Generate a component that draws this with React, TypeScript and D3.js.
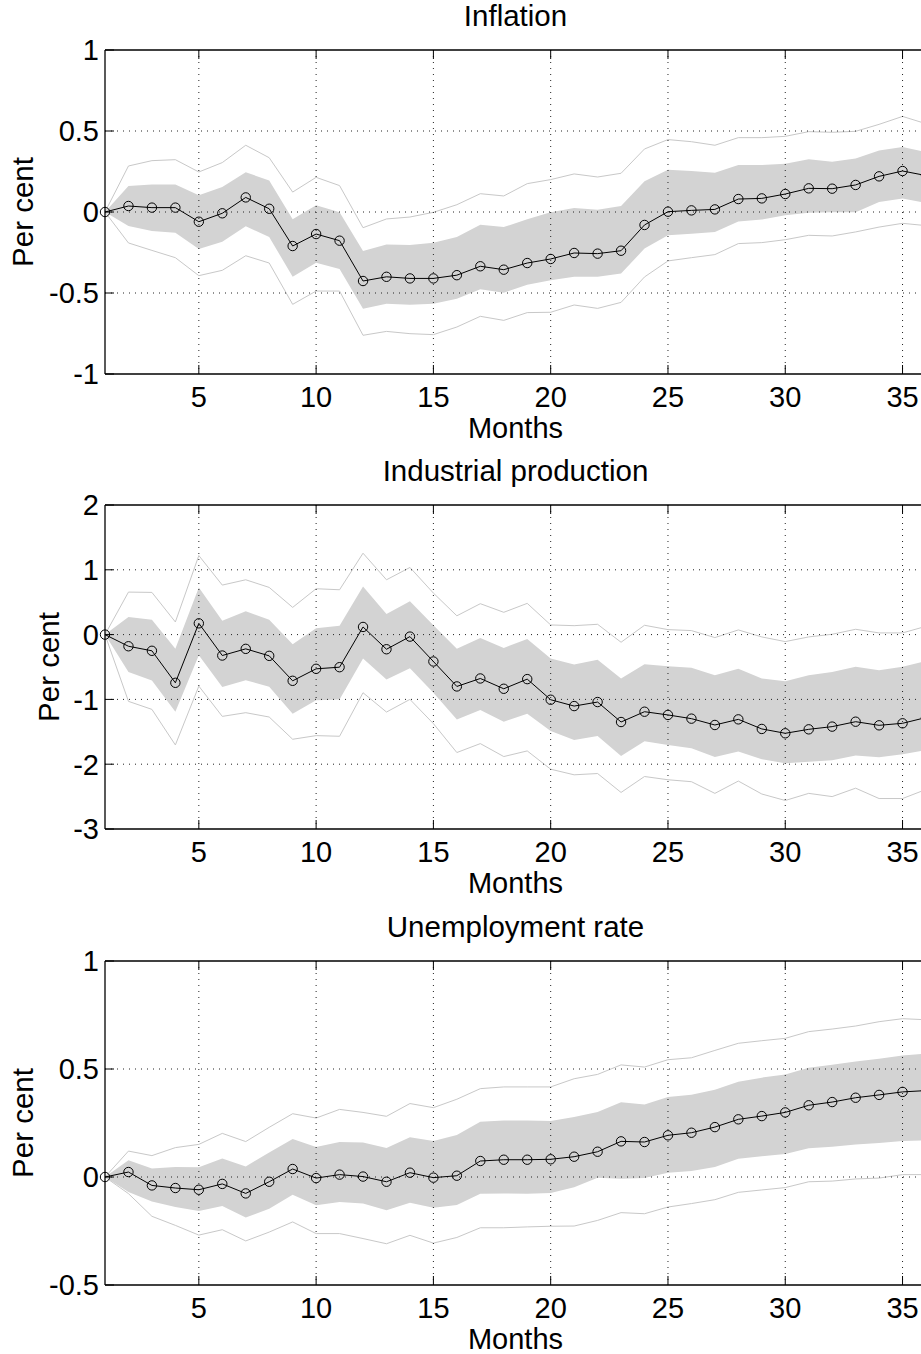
import React from "react";
import * as d3 from "d3";

const months = d3.range(1, 37);
const xTicks = [5, 10, 15, 20, 25, 30, 35];

const titles = ["Inflation", "Industrial production", "Unemployment rate"];
const yDomains: [number, number][] = [[-1, 1], [-3, 2], [-0.5, 1]];
const yTicks = [[-1, -0.5, 0, 0.5, 1], [-3, -2, -1, 0, 1, 2], [-0.5, 0, 0.5, 1]];
const yTickLabels = [["-1", "-0.5", "0", "0.5", "1"], ["-3", "-2", "-1", "0", "1", "2"], ["-0.5", "0", "0.5", "1"]];

// Inflation
const inflMid = [0, 0.037, 0.027, 0.027, -0.06, -0.008, 0.09, 0.02, -0.21, -0.136, -0.177, -0.426, -0.40, -0.41, -0.41, -0.39, -0.335, -0.356, -0.315, -0.29, -0.253, -0.257, -0.239, -0.08, 0.002, 0.01, 0.016, 0.08, 0.084, 0.111, 0.146, 0.144, 0.167, 0.22, 0.253, 0.225];
const inflBandUp = [0, 0.16, 0.17, 0.169, 0.103, 0.154, 0.245, 0.195, -0.045, 0.041, -0.002, -0.24, -0.2, -0.204, -0.19, -0.154, -0.078, -0.093, -0.045, -0.002, 0.025, 0.014, 0.037, 0.19, 0.261, 0.253, 0.243, 0.29, 0.29, 0.298, 0.325, 0.31, 0.331, 0.379, 0.401, 0.37];
const inflBandLo = [0, -0.086, -0.117, -0.128, -0.228, -0.183, -0.088, -0.154, -0.4, -0.313, -0.352, -0.597, -0.566, -0.572, -0.566, -0.535, -0.477, -0.498, -0.449, -0.422, -0.40, -0.40, -0.38, -0.226, -0.144, -0.134, -0.123, -0.058, -0.047, -0.02, -0.004, -0.002, -0.002, 0.062, 0.084, 0.055];
const inflOutUp = [0, 0.284, 0.317, 0.323, 0.247, 0.305, 0.412, 0.335, 0.123, 0.214, 0.163, -0.097, -0.043, -0.031, -0.002, 0.045, 0.113, 0.099, 0.175, 0.2, 0.235, 0.216, 0.239, 0.389, 0.447, 0.434, 0.412, 0.459, 0.459, 0.467, 0.496, 0.492, 0.498, 0.541, 0.59, 0.545];
const inflOutLo = [0, -0.191, -0.237, -0.282, -0.393, -0.36, -0.27, -0.315, -0.57, -0.488, -0.488, -0.761, -0.737, -0.751, -0.757, -0.71, -0.644, -0.669, -0.621, -0.619, -0.574, -0.595, -0.558, -0.401, -0.302, -0.282, -0.263, -0.195, -0.189, -0.171, -0.144, -0.148, -0.123, -0.093, -0.07, -0.084];

// Industrial production
const ipMid = [0, -0.18, -0.25, -0.744, 0.174, -0.323, -0.22, -0.328, -0.713, -0.528, -0.503, 0.118, -0.226, -0.031, -0.415, -0.8, -0.677, -0.836, -0.687, -1.005, -1.103, -1.041, -1.349, -1.19, -1.24, -1.297, -1.395, -1.308, -1.456, -1.523, -1.462, -1.42, -1.344, -1.4, -1.369, -1.28];
const ipBandUp = [0, 0.272, 0.231, -0.22, 0.728, 0.215, 0.359, 0.231, -0.149, 0.097, 0.138, 0.744, 0.318, 0.513, 0.144, -0.22, -0.051, -0.205, -0.067, -0.369, -0.462, -0.39, -0.677, -0.456, -0.487, -0.513, -0.626, -0.528, -0.677, -0.718, -0.626, -0.579, -0.497, -0.549, -0.497, -0.41];
const ipBandLo = [0, -0.579, -0.708, -1.19, -0.318, -0.81, -0.703, -0.805, -1.22, -1.015, -1.0, -0.369, -0.692, -0.518, -0.897, -1.31, -1.164, -1.344, -1.22, -1.487, -1.626, -1.564, -1.872, -1.646, -1.703, -1.754, -1.887, -1.805, -1.923, -1.985, -1.964, -1.938, -1.867, -1.892, -1.846, -1.785];
const ipOutUp = [0, 0.656, 0.651, 0.195, 1.22, 0.764, 0.846, 0.728, 0.42, 0.708, 0.692, 1.256, 0.846, 1.036, 0.641, 0.29, 0.477, 0.344, 0.482, 0.149, 0.138, 0.159, -0.118, 0.144, 0.077, 0.062, -0.046, 0.072, -0.036, -0.108, -0.036, 0.005, 0.082, 0.026, 0.026, 0.128];
const ipOutLo = [0, -1.03, -1.154, -1.703, -0.795, -1.262, -1.205, -1.272, -1.615, -1.559, -1.569, -0.897, -1.195, -1.0, -1.374, -1.82, -1.682, -1.882, -1.795, -2.077, -2.164, -2.144, -2.436, -2.19, -2.24, -2.27, -2.45, -2.26, -2.46, -2.56, -2.45, -2.50, -2.37, -2.53, -2.53, -2.39];

// Unemployment rate
const urMid = [0, 0.023, -0.039, -0.051, -0.059, -0.032, -0.076, -0.022, 0.037, -0.005, 0.011, 0.002, -0.022, 0.02, -0.003, 0.006, 0.074, 0.08, 0.08, 0.082, 0.094, 0.117, 0.165, 0.162, 0.193, 0.205, 0.231, 0.267, 0.282, 0.299, 0.332, 0.347, 0.367, 0.38, 0.394, 0.40];
const urBandUp = [0, 0.077, 0.039, 0.046, 0.045, 0.086, 0.049, 0.114, 0.176, 0.139, 0.162, 0.16, 0.134, 0.184, 0.167, 0.195, 0.256, 0.261, 0.261, 0.259, 0.278, 0.301, 0.346, 0.336, 0.37, 0.381, 0.404, 0.441, 0.46, 0.474, 0.506, 0.52, 0.535, 0.548, 0.563, 0.571];
const urBandLo = [0, -0.069, -0.113, -0.139, -0.157, -0.134, -0.188, -0.147, -0.082, -0.131, -0.116, -0.123, -0.154, -0.119, -0.142, -0.13, -0.077, -0.076, -0.077, -0.074, -0.048, -0.003, -0.008, -0.005, 0.02, 0.028, 0.046, 0.085, 0.096, 0.106, 0.133, 0.14, 0.15, 0.157, 0.167, 0.17];
const urOutUp = [0, 0.12, 0.099, 0.136, 0.151, 0.202, 0.164, 0.23, 0.293, 0.273, 0.313, 0.299, 0.281, 0.34, 0.321, 0.36, 0.409, 0.417, 0.417, 0.417, 0.455, 0.475, 0.519, 0.509, 0.543, 0.552, 0.586, 0.619, 0.631, 0.642, 0.673, 0.685, 0.699, 0.719, 0.733, 0.728];
const urOutLo = [0, -0.077, -0.182, -0.224, -0.269, -0.244, -0.296, -0.255, -0.208, -0.262, -0.262, -0.285, -0.309, -0.27, -0.306, -0.28, -0.235, -0.235, -0.231, -0.228, -0.227, -0.201, -0.165, -0.17, -0.139, -0.123, -0.105, -0.071, -0.06, -0.049, -0.022, -0.019, -0.009, -0.005, 0.011, 0.011];

const panelData = [
  { mid: inflMid, bandUp: inflBandUp, bandLo: inflBandLo, outUp: inflOutUp, outLo: inflOutLo },
  { mid: ipMid, bandUp: ipBandUp, bandLo: ipBandLo, outUp: ipOutUp, outLo: ipOutLo },
  { mid: urMid, bandUp: urBandUp, bandLo: urBandLo, outUp: urOutUp, outLo: urOutLo },
];

const W = 921;
const H = 1354;
const LEFT = 105;
const RIGHT = 926;
const TOPS = [50, 505, 961];
const PH = 324;
const FONT = "'Liberation Sans', Arial, Helvetica, sans-serif";
const FS = 29;

const x = d3.scaleLinear().domain([1, 36]).range([LEFT, RIGHT]);

function Panel({ idx }: { idx: number }) {
  const top = TOPS[idx];
  const bottom = top + PH;
  const y = d3.scaleLinear().domain(yDomains[idx]).range([bottom, top]);
  const d = panelData[idx];
  const area = d3
    .area<number>()
    .x((_, i) => x(months[i]))
    .y0((_, i) => y(d.bandLo[i]))
    .y1((_, i) => y(d.bandUp[i]));
  const line = (arr: number[]) =>
    d3
      .line<number>()
      .x((_, i) => x(months[i]))
      .y((v) => y(v))(arr) as string;
  const [y0, y1] = yDomains[idx];
  const tickLen = 9;
  const ylabelX = idx === 1 ? 59 : 33;
  return (
    <g>
      <path d={area(months) as string} fill="#d3d3d3" stroke="none" />
      <path d={line(d.outUp)} fill="none" stroke="#c8c8c8" strokeWidth={1} />
      <path d={line(d.outLo)} fill="none" stroke="#c8c8c8" strokeWidth={1} />
      {xTicks.map((t) => (
        <line key={"gx" + t} x1={x(t)} x2={x(t)} y1={top} y2={bottom} stroke="#222" strokeWidth={1} strokeDasharray="1,5" />
      ))}
      {yTicks[idx]
        .filter((t) => t !== y0 && t !== y1)
        .map((t) => (
          <line key={"gy" + t} x1={LEFT} x2={RIGHT} y1={y(t)} y2={y(t)} stroke="#222" strokeWidth={1} strokeDasharray="1,5" />
        ))}
      <path d={line(d.mid)} fill="none" stroke="#000" strokeWidth={1} />
      {d.mid.map((v, i) => (
        <circle key={"c" + i} cx={x(months[i])} cy={y(v)} r={4.7} fill="none" stroke="#000" strokeWidth={1} />
      ))}
      <line x1={LEFT} x2={RIGHT} y1={top} y2={top} stroke="#000" strokeWidth={1.3} />
      <line x1={LEFT} x2={RIGHT} y1={bottom} y2={bottom} stroke="#000" strokeWidth={1.3} />
      <line x1={LEFT} x2={LEFT} y1={top} y2={bottom} stroke="#000" strokeWidth={1.3} />
      <line x1={RIGHT} x2={RIGHT} y1={top} y2={bottom} stroke="#000" strokeWidth={1.3} />
      {xTicks.map((t) => (
        <g key={"tx" + t}>
          <line x1={x(t)} x2={x(t)} y1={bottom} y2={bottom - tickLen} stroke="#000" strokeWidth={1} />
          <line x1={x(t)} x2={x(t)} y1={top} y2={top + tickLen} stroke="#000" strokeWidth={1} />
          <text x={x(t)} y={bottom + 33} textAnchor="middle" fontSize={FS} fontFamily={FONT} fill="#000">
            {t}
          </text>
        </g>
      ))}
      {yTicks[idx].map((t, j) => (
        <g key={"ty" + t}>
          <line x1={LEFT} x2={LEFT + tickLen} y1={y(t)} y2={y(t)} stroke="#000" strokeWidth={1} />
          <text x={99} y={y(t)} dy="0.36em" textAnchor="end" fontSize={FS} fontFamily={FONT} fill="#000">
            {yTickLabels[idx][j]}
          </text>
        </g>
      ))}
      <text x={(LEFT + RIGHT) / 2} y={top - 24} textAnchor="middle" fontSize={29.5} fontFamily={FONT} fill="#000">
        {titles[idx]}
      </text>
      <text x={(LEFT + RIGHT) / 2} y={bottom + 64} textAnchor="middle" fontSize={FS} fontFamily={FONT} fill="#000">
        Months
      </text>
      <text
        transform={`translate(${ylabelX},${(top + bottom) / 2}) rotate(-90)`}
        textAnchor="middle"
        fontSize={29.5}
        fontFamily={FONT}
        fill="#000"
      >
        Per cent
      </text>
    </g>
  );
}

export default function App() {
  return (
    <svg
      width={W}
      height={H}
      viewBox={`0 0 ${W} ${H}`}
      style={{ position: "absolute", left: 0, top: 0, display: "block", background: "#fff" }}
    >
      <rect x={0} y={0} width={W} height={H} fill="#fff" />
      {[0, 1, 2].map((i) => (
        <Panel key={i} idx={i} />
      ))}
    </svg>
  );
}
